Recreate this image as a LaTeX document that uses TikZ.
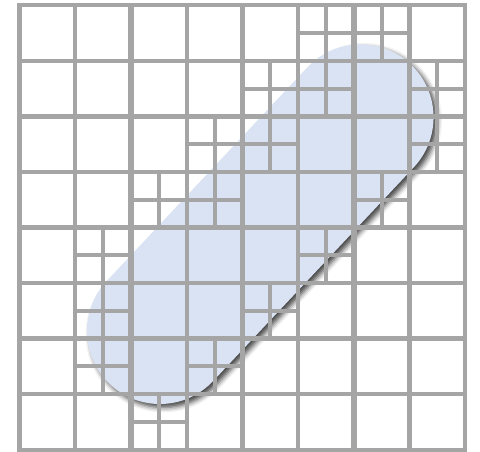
\documentclass[tikz,border=0pt]{standalone}
\usetikzlibrary{shadows.blur}
\definecolor{gridgray}{HTML}{A5A5A5}
\definecolor{capsulefill}{HTML}{DAE3F3}
\begin{document}
\begin{tikzpicture}[x=1pt,y=1pt,
  majorline/.style={draw=gridgray, line width=5.5pt},
  minorline/.style={draw=gridgray, line width=4.2pt},
  subline/.style={draw=gridgray, line width=4pt},
  borderline/.style={draw=gridgray, line width=4.3pt},
  capsuleshape/.style={fill=capsulefill, blur shadow={shadow xshift=3.5pt, shadow yshift=-3.5pt, shadow blur radius=5pt, shadow opacity=75}}]
\useasboundingbox (0,0) rectangle (480,452);
% capsule (stadium) with shadow
\path[capsuleshape, shift={(160,121)}, rotate=46.8]
  (0pt,-73pt) -- (293pt,-73pt) arc[start angle=-90, end angle=90, radius=73pt]
  -- (0pt,73pt) arc[start angle=90, end angle=270, radius=73pt] -- cycle;
% grid
\begin{scope}[shift={(19.5,2.3)}, x=55.725pt, y=55.55pt]
  \foreach \c/\r in {5/0,6/0,4/1,5/1,7/1,3/2,4/2,7/2,2/3,3/3,6/3,1/4,5/4,1/5,4/5,1/6,3/6,2/7}{
    \draw[subline] ({\c+0.5},{7-\r}) -- ({\c+0.5},{8-\r});
    \draw[subline] (\c,{7.5-\r}) -- ({\c+1},{7.5-\r});
  }
  \foreach \i in {1,3,5,7}{
    \draw[minorline] (\i,0) -- (\i,8);
    \draw[minorline] (0,\i) -- (8,\i);
  }
  \foreach \i in {2,4,6}{
    \draw[majorline] (\i,0) -- (\i,8);
    \draw[majorline] (0,\i) -- (8,\i);
  }
  \draw[borderline] (0,0) rectangle (8,8);
\end{scope}
\end{tikzpicture}
\end{document}
